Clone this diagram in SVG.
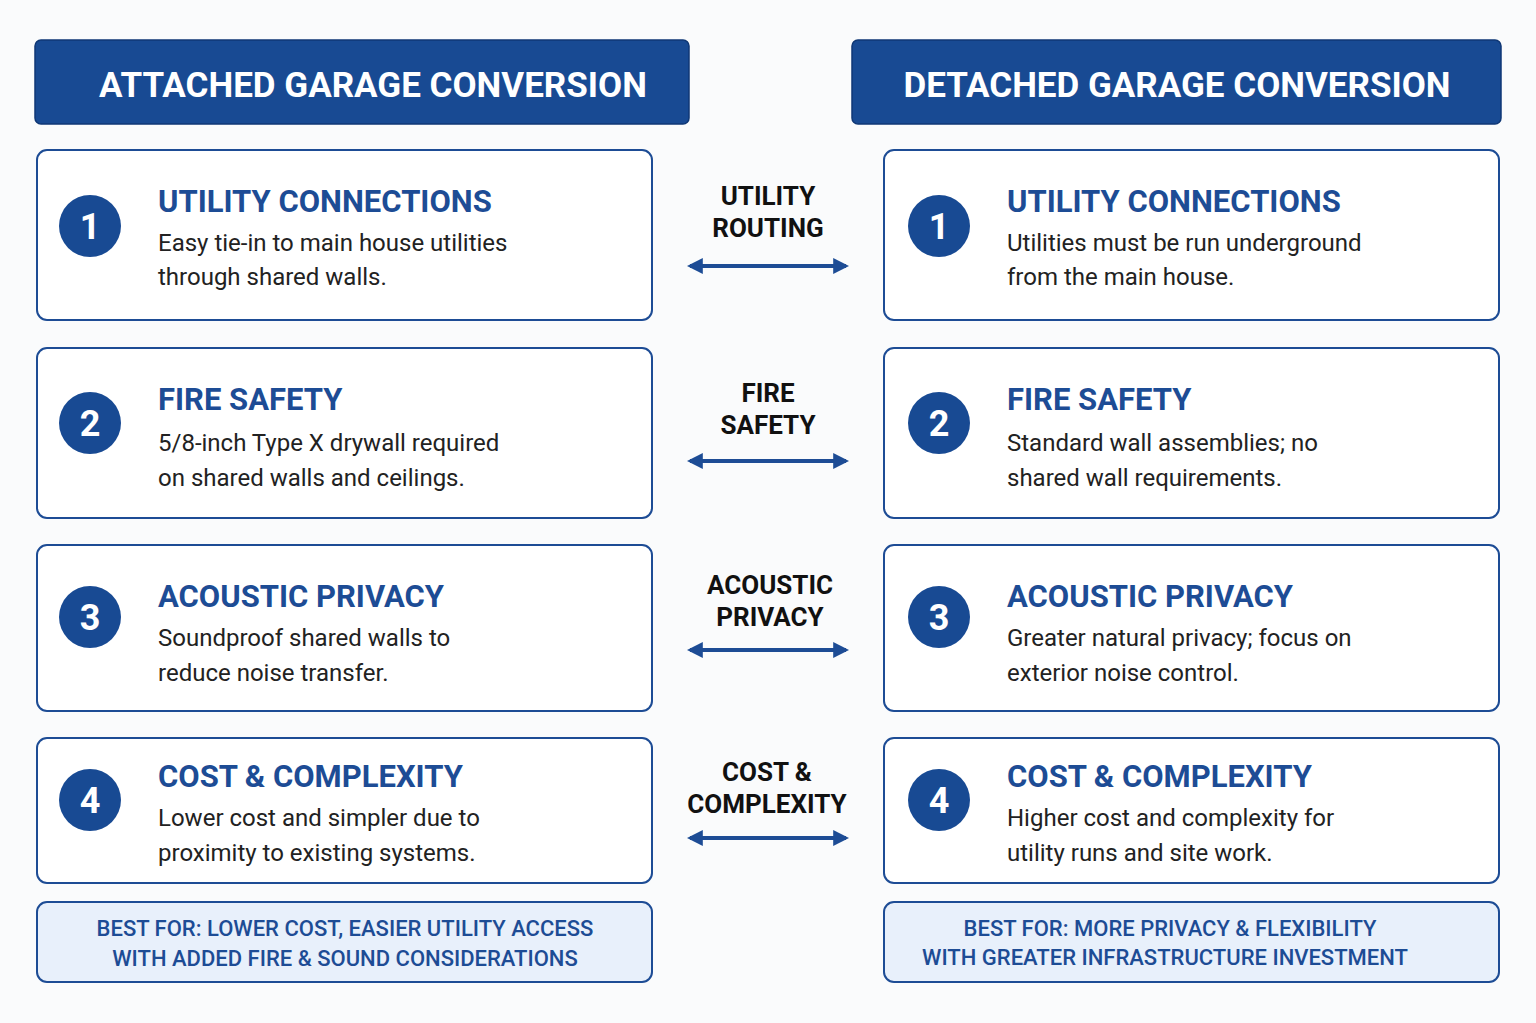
<svg xmlns="http://www.w3.org/2000/svg" width="1536" height="1023" viewBox="0 0 1536 1023">
<style>
.hdr{fill:#184a93;stroke:#0f3775;stroke-width:1.5}
.hdrt{font-family:Roboto,"Liberation Sans",sans-serif;font-weight:700;font-size:35px;fill:#fff;text-anchor:middle}
.card{fill:#fff;stroke:#1d4c95;stroke-width:2}
.circ{fill:#184a93}
.num{font-family:Roboto,"Liberation Sans",sans-serif;font-weight:700;font-size:36px;fill:#fff;text-anchor:middle}
.ttl{font-family:Roboto,"Liberation Sans",sans-serif;font-weight:700;font-size:31px;fill:#1d4c95}
.body{font-family:Roboto,"Liberation Sans",sans-serif;font-size:24px;fill:#222}
.best{fill:#e8f0fb;stroke:#1d4c95;stroke-width:2}
.bestt{font-family:Roboto,"Liberation Sans",sans-serif;font-weight:500;font-size:22px;fill:#1d4c95;text-anchor:middle}
.lbl{font-family:Roboto,"Liberation Sans",sans-serif;font-weight:700;font-size:26px;fill:#111;text-anchor:middle}
.arr{stroke:#1d4c95;stroke-width:4;fill:none;marker-start:url(#ah);marker-end:url(#ah)}
</style>
<defs>
<marker id="ah" viewBox="0 0 10 10" refX="8" refY="5" markerWidth="4" markerHeight="6" orient="auto-start-reverse" markerUnits="strokeWidth"><path d="M0,0 L10,5 L0,10 Z" fill="#1d4c95"/></marker>
</defs>
<rect width="1536" height="1023" fill="#fafbfc"/>
<g id="hdr-left"><rect class="hdr" x="35" y="40" width="654" height="84" rx="6"/><text class="hdrt" x="373" y="97">ATTACHED GARAGE CONVERSION</text></g>
<g id="hdr-right"><rect class="hdr" x="852" y="40" width="649" height="84" rx="6"/><text class="hdrt" x="1177" y="97">DETACHED GARAGE CONVERSION</text></g>

<g id="L1"><rect class="card" x="37" y="150" width="615" height="170" rx="10"/><circle class="circ" cx="90" cy="226" r="31"/><text class="num" x="90" y="239">1</text><text class="ttl" x="158" y="212">UTILITY CONNECTIONS</text><text class="body" x="158" y="251">Easy tie-in to main house utilities</text><text class="body" x="158" y="285">through shared walls.</text></g>
<g id="L2"><rect class="card" x="37" y="348" width="615" height="170" rx="10"/><circle class="circ" cx="90" cy="423" r="31"/><text class="num" x="90" y="436">2</text><text class="ttl" x="158" y="410">FIRE SAFETY</text><text class="body" x="158" y="451">5/8-inch Type X drywall required</text><text class="body" x="158" y="486">on shared walls and ceilings.</text></g>
<g id="L3"><rect class="card" x="37" y="545" width="615" height="166" rx="10"/><circle class="circ" cx="90" cy="617" r="31"/><text class="num" x="90" y="630">3</text><text class="ttl" x="158" y="607">ACOUSTIC PRIVACY</text><text class="body" x="158" y="646">Soundproof shared walls to</text><text class="body" x="158" y="681">reduce noise transfer.</text></g>
<g id="L4"><rect class="card" x="37" y="738" width="615" height="145" rx="10"/><circle class="circ" cx="90" cy="800" r="31"/><text class="num" x="90" y="813">4</text><text class="ttl" x="158" y="787">COST &amp; COMPLEXITY</text><text class="body" x="158" y="826">Lower cost and simpler due to</text><text class="body" x="158" y="861">proximity to existing systems.</text></g>
<g id="L5"><rect class="best" x="37" y="902" width="615" height="80" rx="10"/><text class="bestt" x="345" y="936">BEST FOR:  LOWER COST, EASIER UTILITY ACCESS</text><text class="bestt" x="345" y="966">WITH ADDED FIRE &amp; SOUND CONSIDERATIONS</text></g>

<g id="R1"><rect class="card" x="884" y="150" width="615" height="170" rx="10"/><circle class="circ" cx="939" cy="226" r="31"/><text class="num" x="939" y="239">1</text><text class="ttl" x="1007" y="212">UTILITY CONNECTIONS</text><text class="body" x="1007" y="251">Utilities must be run underground</text><text class="body" x="1007" y="285">from the main house.</text></g>
<g id="R2"><rect class="card" x="884" y="348" width="615" height="170" rx="10"/><circle class="circ" cx="939" cy="423" r="31"/><text class="num" x="939" y="436">2</text><text class="ttl" x="1007" y="410">FIRE SAFETY</text><text class="body" x="1007" y="451">Standard wall assemblies; no</text><text class="body" x="1007" y="486">shared wall requirements.</text></g>
<g id="R3"><rect class="card" x="884" y="545" width="615" height="166" rx="10"/><circle class="circ" cx="939" cy="617" r="31"/><text class="num" x="939" y="630">3</text><text class="ttl" x="1007" y="607">ACOUSTIC PRIVACY</text><text class="body" x="1007" y="646">Greater natural privacy; focus on</text><text class="body" x="1007" y="681">exterior noise control.</text></g>
<g id="R4"><rect class="card" x="884" y="738" width="615" height="145" rx="10"/><circle class="circ" cx="939" cy="800" r="31"/><text class="num" x="939" y="813">4</text><text class="ttl" x="1007" y="787">COST &amp; COMPLEXITY</text><text class="body" x="1007" y="826">Higher cost and complexity for</text><text class="body" x="1007" y="861">utility runs and site work.</text></g>
<g id="R5"><rect class="best" x="884" y="902" width="615" height="80" rx="10"/><text class="bestt" x="1170" y="936">BEST FOR:  MORE PRIVACY &amp; FLEXIBILITY</text><text class="bestt" x="1165" y="965">WITH GREATER INFRASTRUCTURE INVESTMENT</text></g>

<g id="connectors">
<text class="lbl" x="768" y="205">UTILITY</text><text class="lbl" x="768" y="237">ROUTING</text><line class="arr" x1="690" y1="266" x2="846" y2="266"/>
<text class="lbl" x="768" y="402">FIRE</text><text class="lbl" x="768" y="434">SAFETY</text><line class="arr" x1="690" y1="461" x2="846" y2="461"/>
<text class="lbl" x="770" y="594">ACOUSTIC</text><text class="lbl" x="770" y="626">PRIVACY</text><line class="arr" x1="690" y1="650" x2="846" y2="650"/>
<text class="lbl" x="767" y="781">COST &amp;</text><text class="lbl" x="767" y="813">COMPLEXITY</text><line class="arr" x1="690" y1="838" x2="846" y2="838"/>
</g>
</svg>
